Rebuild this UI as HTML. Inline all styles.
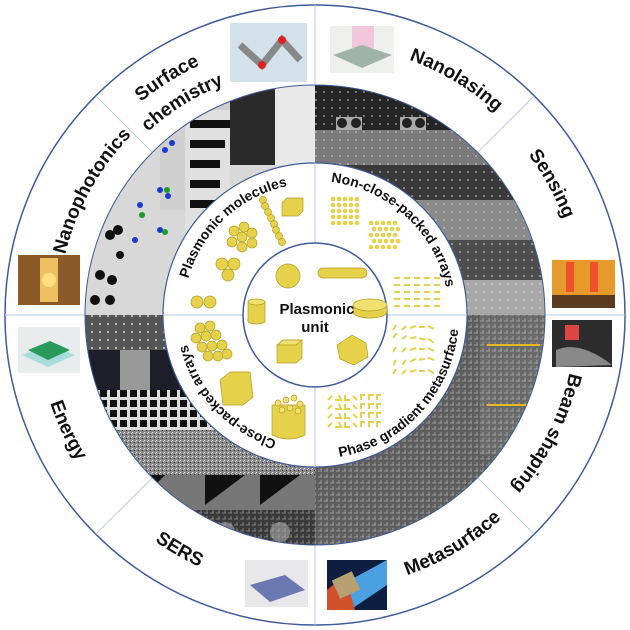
<!DOCTYPE html>
<html><head><meta charset="utf-8"><style>
html,body{margin:0;padding:0;background:#fff;}
svg{display:block;}
text{font-family:"Liberation Sans",Arial,sans-serif;font-weight:bold;fill:#111;}
</style></head><body>
<svg width="630" height="630" viewBox="0 0 630 630" xmlns="http://www.w3.org/2000/svg">
<defs>
<clipPath id="ann"><path fill-rule="evenodd" d="M85,315a230,230 0 1,0 460,0a230,230 0 1,0 -460,0Z M163,315a152,152 0 1,0 304,0a152,152 0 1,0 -304,0Z"/></clipPath>
<pattern id="dots" width="8" height="8" patternUnits="userSpaceOnUse"><rect width="8" height="8" fill="none"/><circle cx="4" cy="4" r="1" fill="#ddd"/></pattern>
<pattern id="dotsd" width="7" height="7" patternUnits="userSpaceOnUse"><circle cx="3" cy="3" r="1" fill="#222"/></pattern>
<pattern id="grid" width="6" height="6" patternUnits="userSpaceOnUse"><path d="M0,3h4M3,0v3" stroke="#ccc" stroke-width="0.8"/></pattern>
<pattern id="chk" width="10" height="10" patternUnits="userSpaceOnUse"><rect width="10" height="10" fill="#ddd"/><rect width="7" height="7" fill="#111"/></pattern>
<pattern id="noise" width="4" height="4" patternUnits="userSpaceOnUse"><rect width="4" height="4" fill="#888"/><rect width="1" height="1" fill="#eee"/><rect x="2" y="2" width="1" height="1" fill="#333"/><rect x="3" y="1" width="1" height="1" fill="#ccc"/></pattern>
<path id="p1" d="M60,418 A275,275 0 0 1 519.4,131"/>
<path id="p1b" d="M85.1,407.9 A248,248 0 0 1 499.3,149.1"/>
<path id="p2" d="M153.3,514.7 A257,257 0 0 1 398.7,72"/>
<path id="p3" d="M109.7,136.5 A272,272 0 0 1 568.9,412.5"/>
<path id="p4" d="M228.1,62.6 A267,267 0 0 1 483,522.5"/>
<path id="p5" d="M472.1,106.6 A261,261 0 0 1 238.7,564.6"/>
<path id="p6" d="M106.7,496.1 A276,276 0 0 0 572.7,216.1"/>
<path id="p7" d="M54.7,220.3 A277,277 0 0 0 527.2,493.1"/>
<path id="p8" d="M155,86.4 A279,279 0 0 0 387.2,584.5"/>
<path id="q1" d="M204.3,386.9 A132,132 0 0 1 394.4,209.6"/>
<path id="q2" d="M233.4,208.7 A134,134 0 0 1 428,387"/>
<path id="q3" d="M386.3,424.9 A131,131 0 0 1 210.4,236.2"/>
<path id="q4" d="M236.6,435.8 A144,144 0 0 0 430,228.3"/>
</defs>

<!-- outer ring -->
<circle cx="315" cy="315" r="310" fill="#fff" stroke="#3d5b99" stroke-width="1.5"/>
<g stroke="#b7c9e6" stroke-width="1">
<line x1="315" y1="5" x2="315" y2="85"/><line x1="315" y1="545" x2="315" y2="625"/>
<line x1="5" y1="315" x2="85" y2="315"/><line x1="545" y1="315" x2="625" y2="315"/>
<line x1="152.4" y1="152.4" x2="95.8" y2="95.8"/><line x1="477.6" y1="152.4" x2="534.2" y2="95.8"/>
<line x1="152.4" y1="477.6" x2="95.8" y2="534.2"/><line x1="477.6" y1="477.6" x2="534.2" y2="534.2"/>
</g>

<!-- outer images -->
<rect x="230" y="23" width="77" height="59" fill="#d3e1ea"/>
<path d="M240,45 L262,65 L282,40 L300,60" stroke="#888" stroke-width="7" fill="none"/>
<circle cx="262" cy="65" r="4" fill="#d22"/><circle cx="282" cy="40" r="4" fill="#d22"/>
<rect x="330" y="26" width="64" height="47" fill="#eef0ee"/>
<rect x="352" y="26" width="22" height="22" fill="#f2c6dc"/>
<path d="M333,55 L362,45 L392,55 L362,68Z" fill="#9fb4a8"/>
<rect x="552" y="260" width="63" height="48" fill="#e79a2c"/>
<rect x="552" y="295" width="63" height="13" fill="#5a3a20"/>
<rect x="566" y="262" width="8" height="30" fill="#f0502a"/><rect x="590" y="262" width="8" height="30" fill="#f0502a"/>
<rect x="552" y="320" width="60" height="47" fill="#2c2c2c"/>
<path d="M556,350 Q580,340 612,365 L556,367Z" fill="#888"/><rect x="565" y="325" width="14" height="15" fill="#d44"/>
<rect x="327" y="560" width="60" height="50" fill="#0e1e40"/>
<path d="M327,610 L350,580 L387,560 L387,585 L350,610Z" fill="#4aa0e0"/>
<path d="M327,590 L345,575 L355,610 L327,610Z" fill="#d0502a"/>
<rect x="335" y="575" width="22" height="20" fill="#b8a070" transform="rotate(-25 346 585)"/>
<rect x="245" y="560" width="63" height="47" fill="#e8e8ea"/>
<path d="M250,585 L285,575 L305,590 L270,602Z" fill="#6a7ab0"/>
<rect x="18" y="327" width="62" height="46" fill="#e8ecec"/>
<path d="M22,355 L50,345 L75,355 L48,367Z" fill="#a8dcdc"/><path d="M28,350 L50,341 L70,350 L48,360Z" fill="#2a9a5a"/>
<rect x="18" y="255" width="62" height="50" fill="#8a5a28"/>
<rect x="40" y="258" width="18" height="44" fill="#f0c060"/><circle cx="49" cy="280" r="7" fill="#ffe080"/>

<!-- middle ring -->
<g clip-path="url(#ann)">
<rect x="80" y="80" width="235" height="235" fill="#d8d8d8"/>
<rect x="230" y="85" width="45" height="80" fill="#2a2a2a"/>
<rect x="275" y="85" width="40" height="80" fill="#e8e8e8"/>
<rect x="160" y="100" width="70" height="110" fill="#cfcfcf"/>
<rect x="185" y="110" width="45" height="120" fill="#e0e0e0"/>
<rect x="190" y="120" width="40" height="8" fill="#111"/><rect x="190" y="140" width="35" height="8" fill="#111"/>
<rect x="190" y="160" width="30" height="8" fill="#111"/><rect x="190" y="180" width="30" height="8" fill="#111"/>
<rect x="190" y="200" width="30" height="8" fill="#111"/>
<g fill="#111"><circle cx="110" cy="235" r="5"/><circle cx="118" cy="230" r="5"/><circle cx="100" cy="275" r="5"/><circle cx="112" cy="280" r="5"/><circle cx="95" cy="300" r="5"/><circle cx="110" cy="300" r="5"/><circle cx="120" cy="255" r="4"/></g>
<g fill="#1a3ad0"><circle cx="165" cy="150" r="3"/><circle cx="172" cy="143" r="3"/><circle cx="160" cy="190" r="3"/><circle cx="168" cy="196" r="3"/><circle cx="140" cy="205" r="3"/><circle cx="135" cy="240" r="3"/><circle cx="160" cy="230" r="3"/></g>
<g fill="#1a9a2a"><circle cx="167" cy="190" r="3"/><circle cx="142" cy="215" r="3"/><circle cx="165" cy="232" r="3"/></g>
<rect x="315" y="80" width="240" height="235" fill="#555"/>
<rect x="315" y="85" width="240" height="45" fill="#252525"/>
<rect x="315" y="130" width="240" height="35" fill="#7a7a7a"/>
<rect x="315" y="165" width="240" height="35" fill="#3a3a3a"/>
<rect x="315" y="200" width="240" height="40" fill="#8a8a8a"/>
<rect x="315" y="240" width="240" height="40" fill="#4e4e4e"/>
<rect x="315" y="280" width="240" height="35" fill="#a8a8a8"/>
<rect x="315" y="80" width="240" height="235" fill="url(#dots)" opacity="0.6"/>
<rect x="336" y="117" width="26" height="13" fill="#aaa"/><rect x="400" y="117" width="26" height="13" fill="#aaa"/>
<circle cx="342" cy="123" r="5" fill="#222"/><circle cx="356" cy="123" r="5" fill="#222"/>
<circle cx="407" cy="123" r="5" fill="#222"/><circle cx="420" cy="123" r="5" fill="#222"/>
<rect x="315" y="315" width="240" height="240" fill="#5e5e5e"/>
<rect x="480" y="315" width="75" height="140" fill="#6a6a6a"/>
<rect x="315" y="315" width="240" height="240" fill="url(#grid)" opacity="0.7"/>
<g stroke="#e8b820" stroke-width="2"><line x1="487" y1="345" x2="540" y2="345"/><line x1="487" y1="405" x2="540" y2="405"/></g>
<rect x="80" y="315" width="235" height="240" fill="#444"/>
<rect x="80" y="315" width="235" height="35" fill="#555"/><rect x="80" y="315" width="235" height="35" fill="url(#dots)"/>
<rect x="80" y="350" width="235" height="40" fill="#1e1e2a"/>
<rect x="120" y="350" width="30" height="40" fill="#999"/><rect x="190" y="350" width="30" height="40" fill="#999"/>
<rect x="80" y="390" width="235" height="40" fill="url(#chk)"/>
<rect x="80" y="430" width="235" height="45" fill="url(#noise)"/>
<rect x="80" y="475" width="235" height="35" fill="#777"/>
<path d="M150,475 L165,475 L150,490Z M205,475 L245,475 L205,505Z M260,475 L300,475 L260,505Z" fill="#111"/>
<rect x="80" y="510" width="235" height="45" fill="#3a3a3a"/><rect x="80" y="510" width="235" height="45" fill="url(#grid)" opacity="0.6"/>
<circle cx="225" cy="532" r="10" fill="#aaa" opacity="0.6"/><circle cx="280" cy="532" r="10" fill="#aaa" opacity="0.6"/>
</g>
<circle cx="315" cy="315" r="230" fill="none" stroke="#3d5b99" stroke-width="1"/>

<!-- inner disc -->
<circle cx="315" cy="315" r="152" fill="#fff" stroke="#3d5b99" stroke-width="1.2"/>
<g stroke="#b7c9e6" stroke-width="1"><line x1="163" y1="315" x2="467" y2="315"/><line x1="315" y1="163" x2="315" y2="467"/></g>
<circle cx="315" cy="315" r="72" fill="#fff" stroke="#3d5b99" stroke-width="1.5"/>

<g fill="#e5d24a" stroke="#b29c22" stroke-width="0.7">
<!-- unit -->
<circle cx="288" cy="276" r="12"/>
<rect x="318" y="268" width="49" height="10" rx="5"/>
<path d="M353,305 v7 a17,6 0 0 0 34,0 v-7Z"/><ellipse cx="370" cy="305" rx="17" ry="6" fill="#f0e070"/>
<path d="M248,302 v19 a8.5,3 0 0 0 17,0 v-19Z"/><ellipse cx="256.5" cy="302" rx="8.5" ry="3" fill="#f0e070"/>
<path d="M277,345 l6,-5 h19 v18 l-6,5 h-19Z"/><path d="M277,345 l6,-5 h19 l-6,5Z" fill="#f0e070"/>
<path d="M352,335 l14,8 l2,14 l-14,8 l-14,-6 l-3,-14Z"/>
<!-- molecules -->
<circle cx="197" cy="302" r="6"/><circle cx="210" cy="302" r="6"/>
<circle cx="222" cy="264" r="6"/><circle cx="234" cy="264" r="6"/><circle cx="228" cy="275" r="6"/>
<circle cx="242" cy="237" r="5"/><circle cx="234" cy="231" r="5"/><circle cx="244" cy="227" r="5"/><circle cx="252" cy="233" r="5"/><circle cx="232" cy="242" r="5"/><circle cx="242" cy="247" r="5"/><circle cx="252" cy="243" r="5"/>
<circle cx="263" cy="200" r="3.5"/><circle cx="265" cy="206" r="3.5"/><circle cx="268" cy="212" r="3.5"/><circle cx="271" cy="218" r="3.5"/><circle cx="274" cy="224" r="3.5"/><circle cx="276" cy="230" r="3.5"/><circle cx="279" cy="236" r="3.5"/><circle cx="282" cy="242" r="3.5"/>
<path d="M282,203 l5,-5 h16 v13 l-5,5 h-16Z"/>
<!-- close packed -->
<g><circle cx="200" cy="328" r="5"/><circle cx="210" cy="326" r="5"/><circle cx="196" cy="338" r="5"/><circle cx="206" cy="336" r="5"/><circle cx="216" cy="335" r="5"/><circle cx="202" cy="347" r="5"/><circle cx="212" cy="346" r="5"/><circle cx="222" cy="345" r="5"/><circle cx="208" cy="356" r="5"/><circle cx="218" cy="356" r="5"/><circle cx="227" cy="354" r="5"/></g>
<path d="M220,380 l10,-8 h20 l3,25 l-10,8 h-20Z"/>
<path d="M272,405 h33 v30 q-16,8 -33,0Z"/>
<g fill="#f0e070"><circle cx="278" cy="403" r="3"/><circle cx="286" cy="400" r="3"/><circle cx="294" cy="398" r="3"/><circle cx="300" cy="404" r="3"/><circle cx="282" cy="410" r="3"/><circle cx="290" cy="408" r="3"/><circle cx="298" cy="411" r="3"/></g>
</g>
<!-- non-close arrays -->
<g fill="#e5d24a">
<g id="g5"><circle cx="333" cy="199" r="2.3"/><circle cx="339" cy="199" r="2.3"/><circle cx="345" cy="199" r="2.3"/><circle cx="351" cy="199" r="2.3"/><circle cx="357" cy="199" r="2.3"/></g>
<use href="#g5" y="6"/><use href="#g5" y="12"/><use href="#g5" y="18"/><use href="#g5" y="24"/>
<use href="#g5" x="38" y="24"/><use href="#g5" x="41" y="30"/><use href="#g5" x="38" y="36"/><use href="#g5" x="41" y="42"/><use href="#g5" x="38" y="48"/>
</g>
<g stroke="#e5d24a" stroke-width="2">
<g id="d5"><line x1="394" y1="278" x2="400" y2="278"/><line x1="404" y1="278" x2="410" y2="278"/><line x1="414" y1="278" x2="420" y2="278"/><line x1="424" y1="278" x2="430" y2="278"/><line x1="434" y1="278" x2="440" y2="278"/></g>
<use href="#d5" y="7"/><use href="#d5" y="14"/><use href="#d5" y="21"/><use href="#d5" y="28"/>
<g id="t5"><line x1="393" y1="330" x2="396" y2="325"/><line x1="402" y1="330" x2="406" y2="326"/><line x1="410" y1="328" x2="416" y2="326"/><line x1="419" y1="327" x2="425" y2="327"/><line x1="428" y1="326" x2="434" y2="329"/></g>
<use href="#t5" y="11" transform="rotate(8 415 340)"/><use href="#t5" y="22"/><use href="#t5" y="33" transform="rotate(-6 415 360)"/><use href="#t5" y="44"/>
<g id="l8"><path d="M328,400 l4,-4 M335,400 h6 l-2,-5 M345,395 v5 h5 M353,396 l4,4 M361,400 v-5 h4 M369,400 v-5 h5 M377,400 v-5 h4" fill="none"/></g>
<use href="#l8" y="9"/><use href="#l8" y="18"/><use href="#l8" y="27"/>
</g>

<!-- labels -->
<g font-size="19">
<text><textPath href="#p1" startOffset="50%" text-anchor="middle">Surface</textPath></text>
<text><textPath href="#p1b" startOffset="50%" text-anchor="middle">chemistry</textPath></text>
<text><textPath href="#p2" startOffset="50%" text-anchor="middle">Nanophotonics</textPath></text>
<text><textPath href="#p3" startOffset="50%" text-anchor="middle">Nanolasing</textPath></text>
<text><textPath href="#p4" startOffset="50%" text-anchor="middle">Sensing</textPath></text>
<text><textPath href="#p5" startOffset="50%" text-anchor="middle">Beam shaping</textPath></text>
<text><textPath href="#p6" startOffset="50%" text-anchor="middle">Metasurface</textPath></text>
<text><textPath href="#p7" startOffset="50%" text-anchor="middle">SERS</textPath></text>
<text><textPath href="#p8" startOffset="50%" text-anchor="middle">Energy</textPath></text>
</g>
<g font-size="14">
<text><textPath href="#q1" startOffset="50%" text-anchor="middle">Plasmonic molecules</textPath></text>
<text><textPath href="#q2" startOffset="50%" text-anchor="middle">Non-close-packed arrays</textPath></text>
<text><textPath href="#q3" startOffset="50%" text-anchor="middle">Close-packed arrays</textPath></text>
<text><textPath href="#q4" startOffset="50%" text-anchor="middle">Phase gradient metasurface</textPath></text>
</g>
<text x="317" y="314" font-size="15" text-anchor="middle">Plasmonic</text>
<text x="315" y="332" font-size="15" text-anchor="middle">unit</text>
</svg>
</body></html>
